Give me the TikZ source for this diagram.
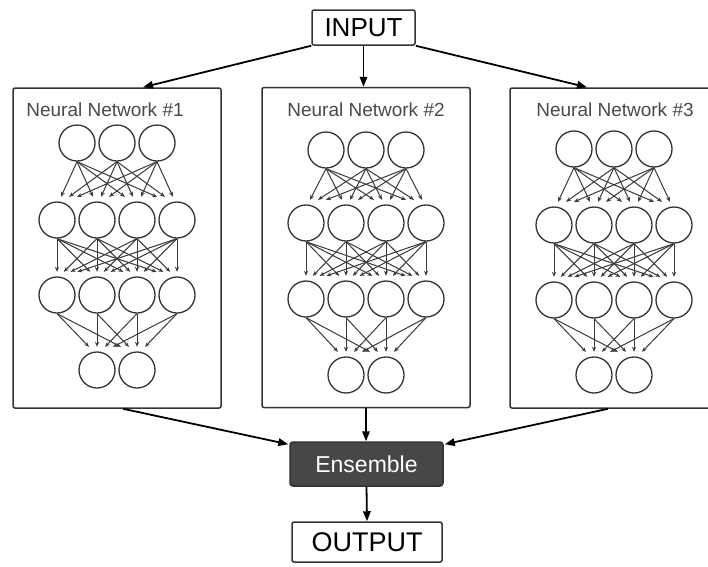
\documentclass[tikz,border=0pt]{standalone}
\usepackage{fontspec}
\setmainfont{Liberation Sans}
\usetikzlibrary{arrows.meta}
\definecolor{boxline}{HTML}{333333}
\definecolor{synline}{HTML}{3A3A3A}
\definecolor{titlegray}{HTML}{4A4A4A}
\definecolor{ensfill}{HTML}{474747}
\begin{document}
\begin{tikzpicture}[x=1pt,y=-1pt,
  box/.style={draw=boxline, line width=1.5pt, rounded corners=2pt, inner sep=0pt},
  netbox/.style={box, minimum width=208pt, minimum height=320pt},
  neuron/.style={circle, draw=boxline, line width=1.3pt, minimum size=36pt, inner sep=0pt},
  syn/.style={draw=synline, line width=1pt, -{Stealth[length=5pt,width=4pt]}},
  flow/.style={draw=black, line width=1.8pt, -{Triangle[length=10pt,width=7.5pt]}},
  nettitle/.style={font=\fontsize{19}{21}\selectfont, text=titlegray, inner sep=0pt},
  bigtext/.style={font=\fontsize{26}{28}\selectfont}
]
\useasboundingbox (0,0) rectangle (708,566);
\clip (0,0) rectangle (708,566);
\fill[white] (0,0) rectangle (708,566);

% top and bottom boxes
\node[box, bigtext, minimum width=103pt, minimum height=35pt] (in) at (363.5,27.5) {INPUT};
\node[box, fill=ensfill, text=white, rounded corners=3pt, font=\fontsize{23}{25}\selectfont,
      minimum width=153pt, minimum height=44pt] (ens) at (366.5,464) {Ensemble};
\node[box, font=\fontsize{27}{29}\selectfont, minimum width=150pt, minimum height=40pt] (out) at (367,542) {OUTPUT};

% network boxes
\node[netbox] (nn1) at (117,248) {};
\node[netbox] (nn2) at (366,247.5) {};
\node[netbox] (nn3) at (614,248) {};
\node[nettitle] (t1) at (105,110) {Neural Network \#1};
\node[nettitle] (t2) at (366,110) {Neural Network \#2};
\node[nettitle] (t3) at (615,110) {Neural Network \#3};

% neurons and synapses
\foreach \k/\cx/\ya/\yb/\yc/\yd in {1/117/143/220/295/370, 2/366/150/223/299/375, 3/614/149/225/300/375} {
  \foreach \i/\dx in {1/-40,2/0,3/40}
    \node[neuron] (n\k-a\i) at ({\cx+(\dx)},\ya) {};
  \foreach \i/\dx in {1/-60,2/-20,3/20,4/60}
    \node[neuron] (n\k-b\i) at ({\cx+(\dx)},\yb) {};
  \foreach \i/\dx in {1/-60,2/-20,3/20,4/60}
    \node[neuron] (n\k-c\i) at ({\cx+(\dx)},\yc) {};
  \foreach \i/\dx in {1/-20,2/20}
    \node[neuron] (n\k-d\i) at ({\cx+(\dx)},\yd) {};
  % layer a -> b
  \foreach \i/\sx in {1/-40,2/0,3/40}
    \foreach \j/\tx in {1/-60,2/-20,3/20,4/60} {
      \pgfmathsetmacro\off{0.2*(\sx-(\tx))}
      \draw[syn] (n\k-a\i.south) -- ([xshift=\off pt, yshift=4.5pt]n\k-b\j.north);
    }
  % layer b -> c
  \foreach \i/\sx in {1/-60,2/-20,3/20,4/60}
    \foreach \j/\tx in {1/-60,2/-20,3/20,4/60} {
      \pgfmathsetmacro\off{0.17*(\sx-(\tx))}
      \draw[syn] (n\k-b\i.south) -- ([xshift=\off pt, yshift=4.5pt]n\k-c\j.north);
    }
  % layer c -> d
  \foreach \i/\sx in {1/-60,2/-20,3/20,4/60}
    \foreach \j/\tx in {1/-20,2/20} {
      \pgfmathsetmacro\off{0.2*(\sx-(\tx))}
      \draw[syn] (n\k-c\i.south) -- ([xshift=\off pt, yshift=4.5pt]n\k-d\j.north);
    }
}

% main flow
\draw[flow] (in.south west) -- ([xshift=26pt]nn1.north);
\draw[flow] (in.south) -- (in.south |- nn2.north);
\draw[flow] (in.south east) -- ([xshift=-27pt]nn3.north);
\draw[flow] ([xshift=6pt]nn1.south) -- ([xshift=-1pt,yshift=-3pt]ens.north west);
\draw[flow] (nn2.south) -- (nn2.south |- ens.north);
\draw[flow] ([xshift=-6pt]nn3.south) -- ([xshift=1pt,yshift=-3pt]ens.north east);
\draw[flow] (ens.south) -- (out.north);
\end{tikzpicture}
\end{document}
